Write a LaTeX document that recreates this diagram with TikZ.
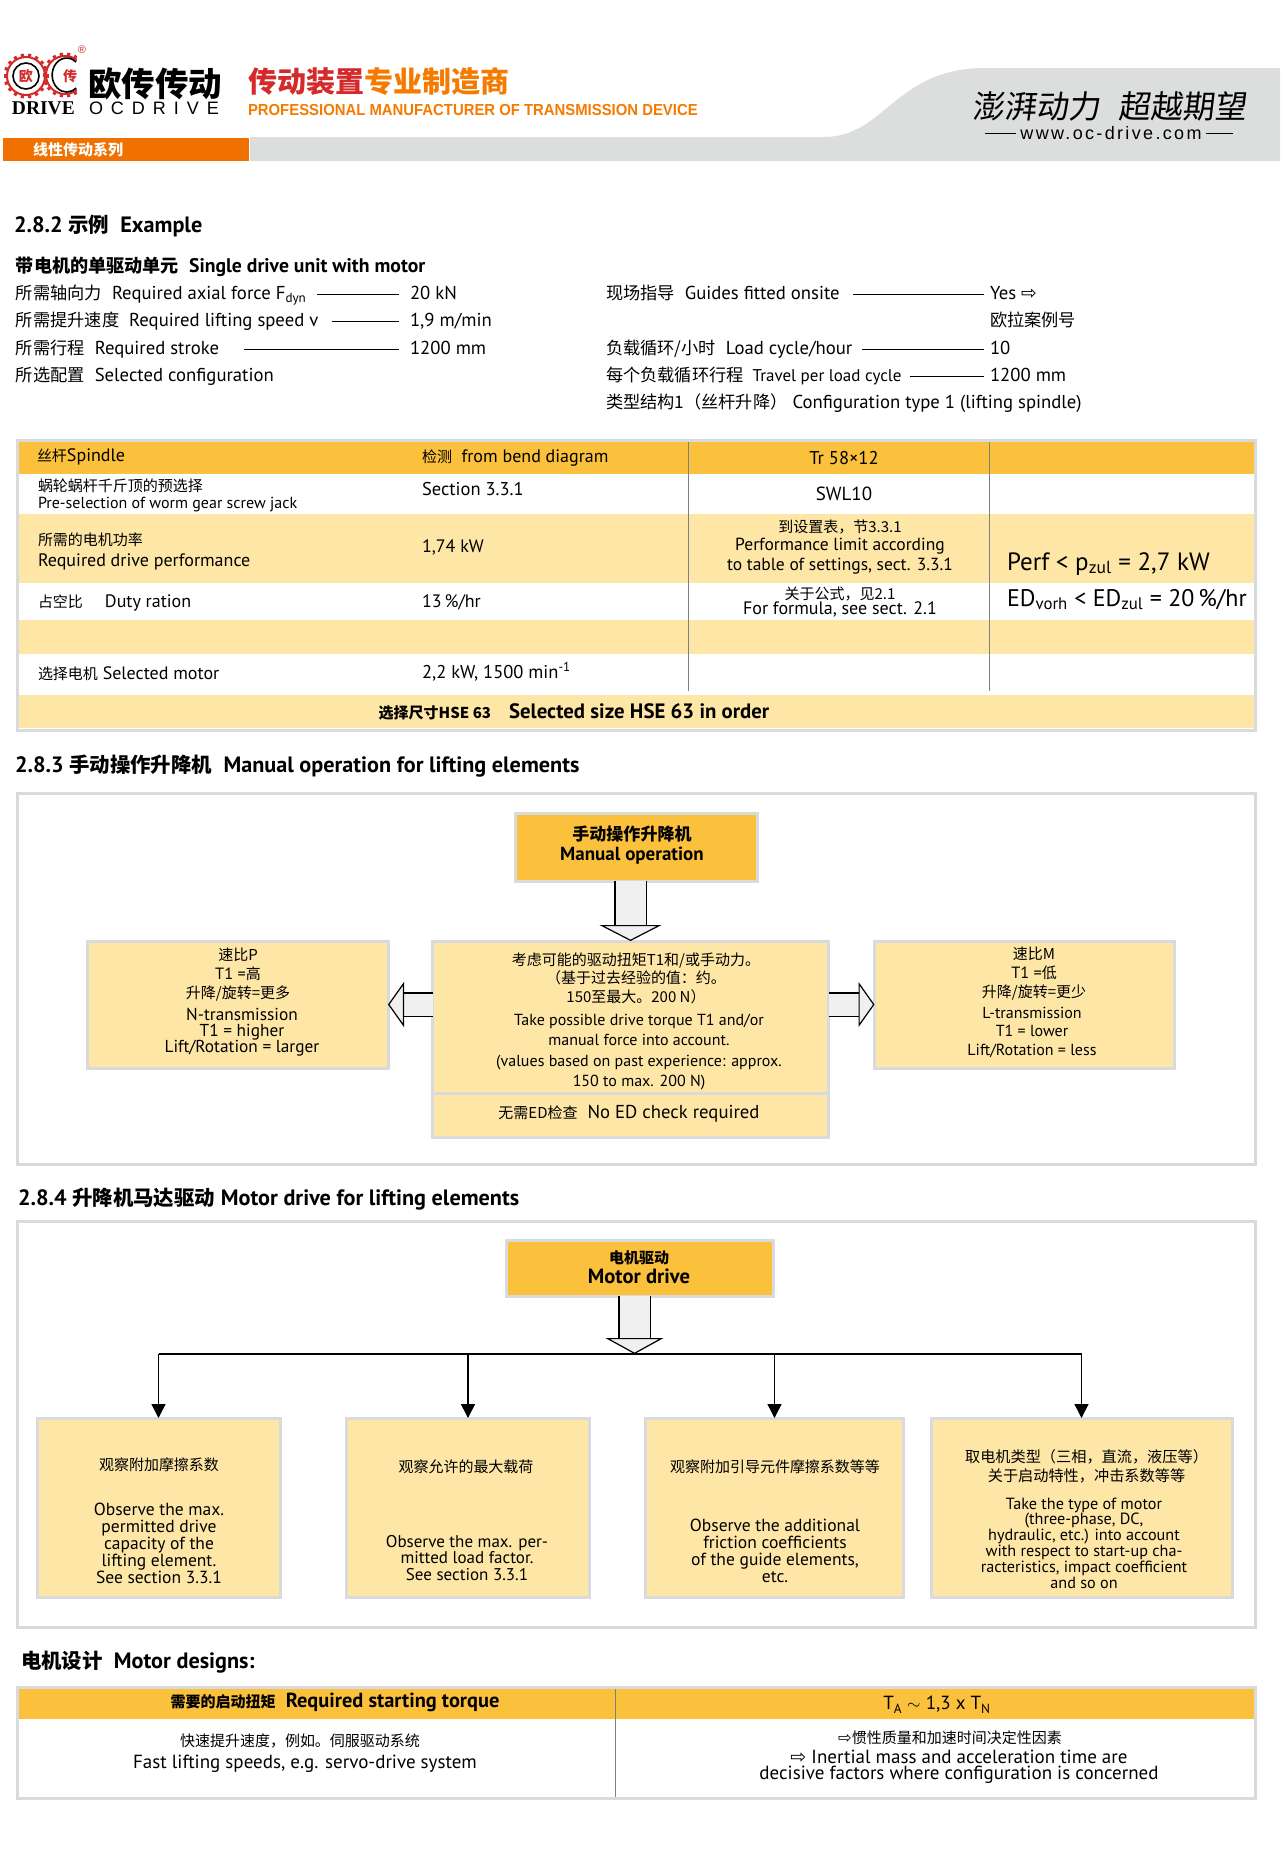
\documentclass[tikz,border=0pt]{standalone}
\usepackage{fontspec}
\usepackage{graphicx}
\setmainfont{PT Sans}
\newfontfamily\cjk[Scale=0.92]{Noto Sans CJK SC}
\newfontfamily\cjkfull{Noto Sans CJK SC}
\newfontfamily\cjkslant[FakeSlant=0.12]{Noto Sans CJK SC}
\newfontfamily\arial{Liberation Sans}
\newfontfamily\arialwide[LetterSpace=13]{Liberation Sans}
\newfontfamily\serifbold{Liberation Serif}
\newfontfamily\dejavu{DejaVu Sans}
\newcommand{\zh}[1]{{\cjk #1}}
\newcommand{\zhs}[1]{{\fontsize{16.3}{18}\selectfont\cjk #1}}
\newcommand{\openarrow}{{\dejavu ⇨}}
\usetikzlibrary{arrows.meta}
\definecolor{hdrorange}{HTML}{FBC13C}
\definecolor{cream}{HTML}{FEE6A6}
\definecolor{framegray}{HTML}{D9DADB}
\definecolor{bandgray}{HTML}{DCDDDD}
\definecolor{bandorange}{HTML}{F07000}
\definecolor{logored}{HTML}{D42A2C}
\definecolor{titleorange}{HTML}{F47A00}
\definecolor{blockgray}{HTML}{F0F0F0}
\tikzset{
  txt/.style={font=\fontsize{18.7}{20}\selectfont, inner sep=0pt, outer sep=0pt, text height=13pt, text depth=3pt, anchor=west},
  tbl/.style={txt, font=\fontsize{18}{20}\selectfont},
  head/.style={txt, font=\fontsize{22.2}{24}\selectfont\bfseries},
  ctxt/.style={font=\fontsize{#1}{18}\selectfont, inner sep=0pt, align=center},
  ctxt/.default=16.3,
  leader/.style={line width=1pt, shorten >=#1},
  leader/.default=11pt,
  orangebox/.style={draw=framegray, line width=3pt, fill=hdrorange, outer sep=0pt, inner sep=0pt, anchor=north west},
  creambox/.style={draw=framegray, line width=3pt, fill=cream, outer sep=0pt, inner sep=0pt, anchor=north west},
  blockarrow/.style 2 args={draw=black, line width=1.2pt, double=blockgray, double distance=#1,
    -{Triangle[length=16pt,width=#2,fill=blockgray,line width=1.2pt]}},
  droparrow/.style={line width=1.5pt, -{Triangle[length=14pt,width=14pt]}}
}

\begin{document}
\begin{tikzpicture}[x=1pt,y=-1pt]
  \useasboundingbox (0,0) rectangle (1280,1850);
  % --- HEADER BAND ---
  \fill[bandgray] (250,137) -- (824,137) .. controls (885,137) and (895,68) .. (985,68) -- (1280,68) -- (1280,161) -- (250,161) -- cycle;
  \fill[bandorange] (3,138) rectangle (249,161);
  \node[txt, text=white, font=\fontsize{15}{17}\selectfont\cjkfull\bfseries] (series) at (33,150) {线性传动系列};
  % logo gears
  \foreach \cx/\cy in {26/76, 65/75} {
    \draw[logored, line width=2pt] (\cx,\cy) circle (19);
    \foreach \a in {0,20,...,340}
      \draw[logored, line width=3.2pt] (\cx,\cy) ++(\a:19) -- ++(\a:3.5);
  }
  \fill[white] (77,55) rectangle (92,97);
  \draw[black, line width=1.6pt] (26,76) circle (13);
  \draw[black, line width=1.6pt] (76,62) arc (-50:-310:14.5 and 17);
  \node[ctxt=14, font=\fontsize{14}{16}\selectfont\cjkfull\bfseries, text=logored] (logoou) at (26,76) {欧};
  \node[ctxt=14, font=\fontsize{14}{16}\selectfont\cjkfull\bfseries, text=logored] (logochuan) at (70,76) {传};
  \node[ctxt=11, text=logored] (logoreg) at (82,50) {\arial ®};
  \node[txt, font=\fontsize{33.5}{36}\selectfont\cjkfull\bfseries, text height=30pt, text depth=6pt] (logoname) at (88,84) {欧传传动};
  \node[txt, font=\fontsize{19.5}{21}\selectfont\serifbold\bfseries] (logodrive) at (12,109) {DRIVE};
  \node[txt, font=\fontsize{18}{20}\selectfont\arial] (logooc) at (89,109) {O\hspace{8pt}C\hspace{8pt}D\hspace{8pt}R\hspace{8pt}I\hspace{8pt}V\hspace{8pt}E};
  \node[txt, font=\fontsize{29}{31}\selectfont\cjkfull\bfseries, text height=26pt, text depth=6pt] (title) at (248,82) {\textcolor{logored}{传动装置}\textcolor{titleorange}{专业制造商}};
  \node[txt, font=\fontsize{16}{18}\selectfont\arial\bfseries, text=titleorange] (subtitle) at (248,110) {\scalebox{0.93}[1]{PROFESSIONAL MANUFACTURER OF TRANSMISSION DEVICE}};
  \node[txt, font=\fontsize{32}{34}\selectfont\cjkslant, text height=28pt, text depth=6pt] (sloganA) at (972,107) {澎湃动力};
  \node[txt, font=\fontsize{32}{34}\selectfont\cjkslant, text height=28pt, text depth=6pt] (sloganB) at (1118,107) {超越期望};
  \node[ctxt=18, font=\fontsize{18}{20}\selectfont\arialwide] (url) at (1111,133) {www.oc-drive.com};
  \coordinate (urlL) at (985,133);
  \coordinate (urlR) at (1233,133);
  \draw[line width=1pt, shorten >=4pt] (urlL) -- (url);
  \draw[line width=1pt, shorten >=4pt] (urlR) -- (url);

  % --- 2.8.2 EXAMPLE ---
  \node[head] (sec282) at (14,227) {2.8.2 \zh{示例}\ \ Example};
  \node[txt, font=\fontsize{19.7}{21}\selectfont\bfseries] (single) at (16,267) {\zh{带电机的单驱动单元}\ \ Single drive unit with motor};
  \node[txt] (axial) at (16,294) {\zh{所需轴向力}\ \ Required axial force F\textsubscript{dyn}};
  \node[txt] (axialval) at (410,294) {20 kN};
  \node[txt] (speed) at (16,321) {\zh{所需提升速度}\ \ Required lifting speed v};
  \node[txt] (speedval) at (410,321) {1,9 m/min};
  \node[txt] (stroke) at (16,349) {\zh{所需行程}\ \ Required stroke};
  \node[txt] (strokeval) at (410,349) {1200 mm};
  \node[txt] (config) at (16,376) {\zh{所选配置}\ \ Selected configuration};
  \coordinate (axialS) at (317,294);
  \coordinate (speedS) at (332,321);
  \coordinate (strokeS) at (244,349);
  \foreach \nodeA/\nodeB in {axialS/axialval, speedS/speedval, strokeS/strokeval}
    \draw[leader] (\nodeA) -- (\nodeB);
  \node[txt] (guides) at (606,294) {\zh{现场指导}\ \ Guides fitted onsite};
  \node[txt] (guidesval) at (990,294) {Yes \openarrow};
  \node[txt] (euler) at (990,321) {\zh{欧拉案例号}};
  \node[txt] (cycle) at (606,349) {\zh{负载循环/小时}\ \ Load cycle/hour};
  \node[txt] (cycleval) at (990,349) {10};
  \node[txt, font=\fontsize{17}{19}\selectfont] (travel) at (606,376) {{\fontsize{18.7}{20}\selectfont\zh{每个负载循环行程}}\ \ Travel per load cycle};
  \node[txt] (travelval) at (990,376) {1200 mm};
  \node[txt] (ctype) at (606,403) {\zh{类型结构1（丝杆升降）}\ Configuration type 1 (lifting spindle)};
  \coordinate (guidesS) at (853,294);
  \coordinate (cycleS) at (862,349);
  \coordinate (travelS) at (910,376);
  \foreach \nodeA/\nodeB in {guidesS/guidesval, cycleS/cycleval, travelS/travelval}
    \draw[leader=6pt] (\nodeA) -- (\nodeB);

  % table
  \fill[white] (16,439) rectangle (1256,731);
  \foreach \ya/\yb/\rowcol in {442/474/hdrorange, 514/583/cream, 620/654/cream, 695/728/cream}
    \fill[\rowcol] (18,\ya) rectangle (1254,\yb);
  \draw[framegray, line width=3pt] (17,440) rectangle (1255,730);
  \foreach \xa in {688,989}
    \draw[gray, line width=1pt] (\xa,442) -- (\xa,691);
  \node[tbl] (spindle) at (37,456) {\zhs{丝杆}Spindle};
  \node[tbl] (bend) at (422,457) {\zhs{检测}\ \ from bend diagram};
  \node[ctxt=18.5] (trval) at (844,458) {Tr 58×12};
  \node[tbl, font=\fontsize{16.3}{18}\selectfont] (preselA) at (38,486) {\zh{蜗轮蜗杆千斤顶的预选择}};
  \node[tbl, font=\fontsize{16}{18}\selectfont] (preselB) at (38,503) {Pre-selection of worm gear screw jack};
  \node[tbl, font=\fontsize{18.5}{20}\selectfont] (section) at (422,490) {Section 3.3.1};
  \node[ctxt=19] (swl) at (844,494) {SWL10};
  \node[tbl, font=\fontsize{16.3}{18}\selectfont] (driveA) at (38,540) {\zh{所需的电机功率}};
  \node[tbl] (driveB) at (38,561) {Required drive performance};
  \node[tbl] (driveval) at (422,547) {1,74 kW};
  \node[ctxt] (limitA) at (840,527) {\zh{到设置表，节3.3.1}};
  \node[ctxt=17.5, font=\fontsize{17.5}{20}\selectfont] (limitB) at (840,556) {Performance limit according\\to table of settings, sect. 3.3.1};
  \node[txt, font=\fontsize{25}{27}\selectfont, text height=18pt, text depth=8pt] (perf) at (1007,565) {Perf < p\textsubscript{zul} = 2,7 kW};
  \node[tbl] (duty) at (38,602) {\zhs{占空比}\hspace{22pt}Duty ration};
  \node[tbl] (dutyval) at (422,602) {13\,\%/hr};
  \node[ctxt] (formulaA) at (840,594) {\zh{关于公式，见2.1}};
  \node[ctxt=18] (formulaB) at (840,609) {For formula, see sect. 2.1};
  \node[txt, font=\fontsize{24}{26}\selectfont, text height=18pt, text depth=8pt] (edvorh) at (1007,601) {ED\textsubscript{vorh} < ED\textsubscript{zul} = 20\,\%/hr};
  \node[tbl] (motor) at (38,674) {\zhs{选择电机}\ Selected motor};
  \node[tbl, font=\fontsize{18.5}{20}\selectfont] (motorval) at (422,673) {2,2 kW, 1500 min\textsuperscript{-1}};
  \node[ctxt=20.8, font=\fontsize{20.8}{23}\selectfont\bfseries] (selsize) at (574,712) {{\fontsize{16.3}{18}\selectfont\zh{选择尺寸HSE 63}}\hspace{18pt}Selected size HSE 63 in order};

  % --- 2.8.3 MANUAL OPERATION ---
  \node[head] (sec283) at (15,767) {2.8.3 \zh{手动操作升降机}\ \ Manual operation for lifting elements};
  \draw[framegray, line width=3pt] (17,793) rectangle (1255,1164);
  \node[orangebox, minimum width=242, minimum height=68] (manual) at (515,813) {};
  \node[ctxt=19, font=\fontsize{19}{20}\selectfont\bfseries] (manualtxt) at (632,845) {{\fontsize{18.5}{20}\selectfont\zh{手动操作升降机}}\\Manual operation};
  \node[creambox, minimum width=396, minimum height=152] (center) at (432.5,941) {};
  \node[creambox, minimum width=396, minimum height=44] (nocheck) at (432.5,1093) {};
  \node[creambox, minimum width=301, minimum height=127] (ratioP) at (87,941) {};
  \node[creambox, minimum width=300, minimum height=127] (ratioM) at (874.5,941) {};
  \draw[blockarrow={30pt}{62pt}] (center.north |- manual.south) -- (center.north);
  \draw[blockarrow={22pt}{45pt}] (center.west |- ratioP.east) -- (ratioP.east);
  \draw[blockarrow={22pt}{45pt}] (center.east |- ratioM.west) -- (ratioM.west);
  \node[ctxt, font=\fontsize{16.3}{19}\selectfont] (ptxtA) at (238,975) {\zh{速比P}\\T1 =\zh{高}\\\zh{升降/旋转=更多}};
  \node[ctxt=17, font=\fontsize{17.3}{16}\selectfont] (ptxtB) at (242,1032) {N-transmission\\T1 = higher\\Lift/Rotation = larger};
  \node[ctxt, font=\fontsize{16.3}{18.5}\selectfont] (ctxtA) at (636,978) {\zh{考虑可能的驱动扭矩T1和/或手动力。}\\\zh{（基于过去经验的值：约。}\\\zh{150至最大。200 N）}};
  \node[ctxt=16, font=\fontsize{16}{20.5}\selectfont] (ctxtB) at (639,1052) {Take possible drive torque T1 and/or\\manual force into account.\\(values based on past experience: approx.\\150 to max. 200 N)};
  \node[ctxt] (notxt) at (629,1114) {\zh{无需ED检查}\hspace{10pt}{\fontsize{18.7}{20}\selectfont No ED check required}};
  \node[ctxt, font=\fontsize{16.3}{19}\selectfont] (mtxtA) at (1034,974) {\zh{速比M}\\T1 =\zh{低}\\\zh{升降/旋转=更少}};
  \node[ctxt=16, font=\fontsize{16}{18.5}\selectfont] (mtxtB) at (1032,1032) {L-transmission\\T1 = lower\\Lift/Rotation = less};

  % --- 2.8.4 MOTOR DRIVE ---
  \node[head] (sec284) at (18,1200) {2.8.4 \zh{升降机马达驱动} Motor drive for lifting elements};
  \draw[framegray, line width=3pt] (17,1221) rectangle (1255,1627);
  \node[orangebox, minimum width=267, minimum height=56] (drive) at (506.5,1240) {};
  \node[ctxt=20.6, font=\fontsize{20.6}{20}\selectfont\bfseries] (drivetxt) at (639,1267) {{\fontsize{16.3}{18}\selectfont\zh{电机驱动}}\\Motor drive};
  \coordinate (busC) at (634.5,1354);
  \coordinate (busL) at (158.5,1354);
  \coordinate (busR) at (1082,1354);
  \draw[blockarrow={30pt}{58pt}] (busC |- drive.south) -- (busC);
  \draw[line width=2pt] (busL) -- (busR);
  \node[creambox, minimum width=243, minimum height=179] (obsA) at (37,1418) {};
  \node[creambox, minimum width=243, minimum height=179] (obsB) at (346.5,1418) {};
  \node[creambox, minimum width=258, minimum height=179] (obsC) at (645.5,1418) {};
  \node[creambox, minimum width=301, minimum height=179] (obsD) at (931,1418) {};
  \foreach \boxname in {obsA,obsB,obsC,obsD}
    \draw[droparrow] (\boxname.north |- busC) -- (\boxname.north);
  \node[ctxt] (obsAzh) at (159,1465) {\zh{观察附加摩擦系数}};
  \node[ctxt=17.5, font=\fontsize{17.5}{17}\selectfont] (obsAen) at (159,1543) {Observe the max.\\permitted drive\\capacity of the\\lifting element.\\See section 3.3.1};
  \node[ctxt] (obsBzh) at (466,1467) {\zh{观察允许的最大载荷}};
  \node[ctxt=17, font=\fontsize{17}{16.5}\selectfont] (obsBen) at (467,1558) {Observe the max. per-\\mitted load factor.\\See section 3.3.1};
  \node[ctxt] (obsCzh) at (775,1467) {\zh{观察附加引导元件摩擦系数等等}};
  \node[ctxt=17.5, font=\fontsize{17.5}{17}\selectfont] (obsCen) at (775,1551) {Observe the additional\\friction coefficients\\of the guide elements,\\etc.};
  \node[ctxt, font=\fontsize{16.5}{19}\selectfont] (obsDzh) at (1086.5,1466) {\zh{取电机类型（三相，直流，液压等）}\\\zh{关于启动特性，冲击系数等等}};
  \node[ctxt=16, font=\fontsize{16.2}{15.8}\selectfont] (obsDen) at (1084,1543) {Take the type of motor\\(three-phase, DC,\\hydraulic, etc.) into account\\with respect to start-up cha-\\racteristics, impact coefficient\\and so on};

  % --- MOTOR DESIGNS ---
  \node[head] (designs) at (21,1663) {\zh{电机设计}\ \ Motor designs:};
  \fill[hdrorange] (18,1689) rectangle (1254,1719);
  \draw[framegray, line width=3pt] (17,1687) rectangle (1255,1798);
  \draw[gray, line width=1pt] (615,1689) -- (615,1797);
  \node[ctxt=20.4, font=\fontsize{20.4}{22}\selectfont\bfseries] (required) at (335,1702) {{\fontsize{16.3}{18}\selectfont\zh{需要的启动扭矩}}\ \ Required starting torque};
  \node[ctxt=19] (torque) at (937,1705) {T\textsubscript{A} $\sim$ 1,3 x T\textsubscript{N}};
  \node[ctxt] (fastzh) at (300,1741) {\zh{快速提升速度，例如。伺服驱动系统}};
  \node[ctxt=19] (fasten) at (305,1764) {Fast lifting speeds, e.g. servo-drive system};
  \node[ctxt] (inertzh) at (950,1738) {{\dejavu ⇨}\zh{惯性质量和加速时间决定性因素}};
  \node[ctxt=19, font=\fontsize{19}{15.5}\selectfont] (inerten) at (959,1767) {\openarrow\ Inertial mass and acceleration time are\\decisive factors where configuration is concerned};
\end{tikzpicture}
\end{document}
